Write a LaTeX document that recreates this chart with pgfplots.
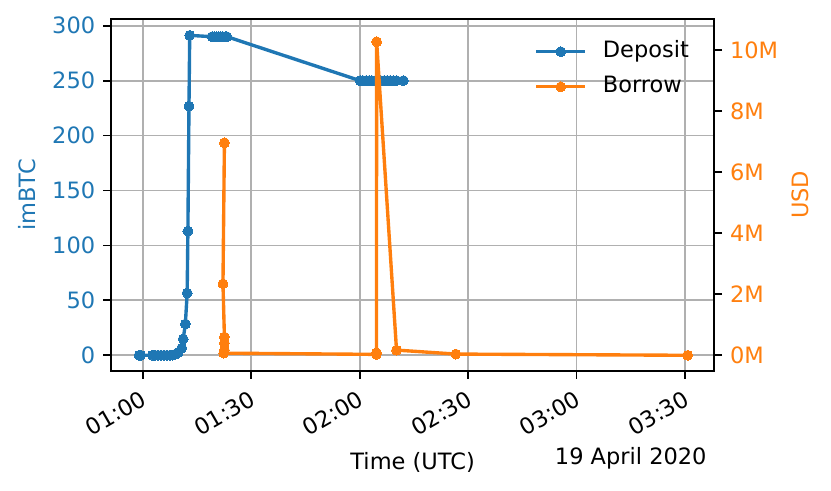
\documentclass[border=0pt]{standalone}
\usepackage{fontspec}
\setmainfont{DejaVu Sans}
\usepackage{pgfplots}
\pgfplotsset{compat=1.18}
\definecolor{cblue}{HTML}{1F77B4}
\definecolor{corange}{HTML}{FF7F0E}
\definecolor{cgrid}{HTML}{B0B0B0}
\begin{document}
\begin{tikzpicture}
\pgfplotsset{
  base/.style={
    width=268.1pt, height=156.3pt, scale only axis,
    xmin=51.23, xmax=218.07,
    /pgf/number format/assume math mode=true,
    tick align=outside, major tick length=3.5pt,
    every tick/.style={black, line width=0.8pt},
    axis line style={line width=0.8pt},
  },
  legend image code/.code={\draw[mark repeat=2,mark phase=2] plot coordinates {(0cm,0cm)(0.385cm,0cm)(0.77cm,0cm)};},
}
\begin{axis}[base, name=ax,
  ymin=-14.0, ymax=306.1,
  xtick={60,90,120,150,180,210},
  xticklabels={01:00,01:30,02:00,02:30,03:00,03:30},
  xtick pos=bottom, ytick pos=left,
  ytick={0,50,100,150,200,250,300},
  grid=major, grid style={cgrid, line width=0.8pt},
  yticklabel style={text=cblue},
  xticklabel style={rotate=30, anchor=north east},
]
\addplot[cblue, line width=1.5pt, mark=*, mark size=2.2pt, mark options={solid, line width=0pt}] coordinates {
(59.0,0)(59.4,0)(62.7,0)(63.5,0)(64.3,0)(65.1,0)(65.9,0)(66.7,0)(67.5,0)(68.2,0.2)(69.0,1)(69.8,2.5)
(70.8,6.6)(71.2,14.8)(71.8,28.5)(72.3,56.7)(72.5,113.1)(72.8,226.8)(73.0,291.2)
(79.2,290)(79.8,290)(80.4,290)(81.0,290)(81.6,290)(82.2,290)(82.8,290)(83.3,290)
(120.1,250)(120.9,250)(121.8,250)(122.6,250)(123.4,250)(124.3,250)(125.1,250)(125.9,250)
(126.8,250)(127.6,250)(128.4,250)(129.3,250)(130.2,250)(132.1,250)
};
\end{axis}
\begin{axis}[base, axis x line=none, axis y line*=right,
  ymin=-0.504, ymax=11.015,
  ytick={0,2,4,6,8,10},
  yticklabel={\pgfmathprintnumber{\tick}M},
  yticklabel style={text=corange},
  legend style={draw=none, fill=none, at={(0.702,0.939)}, anchor=north west,
    inner sep=0pt, outer sep=0pt, row sep=5.6pt, column sep=7pt,
    nodes={inner sep=0pt, text height=7.5pt, text depth=2.5pt}},
  legend cell align=left,
]
\addlegendimage{cblue, line width=1.5pt, mark=*, mark size=2.2pt, mark options={solid, line width=0pt}}
\addlegendentry{Deposit}
\addplot[corange, line width=1.5pt, mark=*, mark size=2.2pt, mark options={solid, line width=0pt}] coordinates {
(82.6,6.96)(82.2,2.34)(82.6,0.60)(82.6,0.40)(82.6,0.17)(82.4,0.07)
(124.6,0.03)(124.65,0.08)(124.7,10.27)(130.2,0.17)(146.6,0.04)(210.7,0.0)
};
\addlegendentry{Borrow}
\end{axis}
\node[anchor=base] at ([yshift=-43.7pt]ax.south) {Time (UTC)};
\node[anchor=base east, inner sep=0pt] at ([xshift=-3.2pt,yshift=-41.9pt]ax.south east) {19 April 2020};
\node[rotate=90, text=cblue] at ([xshift=-37.3pt]ax.west) {imBTC};
\node[rotate=90, text=corange] at ([xshift=38.1pt]ax.east) {USD};
\pgfresetboundingbox
\path[use as bounding box] ([xshift=-49.33pt,yshift=-53.47pt]ax.south west) rectangle ++(369.33pt,218.22pt);
\end{tikzpicture}
\end{document}
